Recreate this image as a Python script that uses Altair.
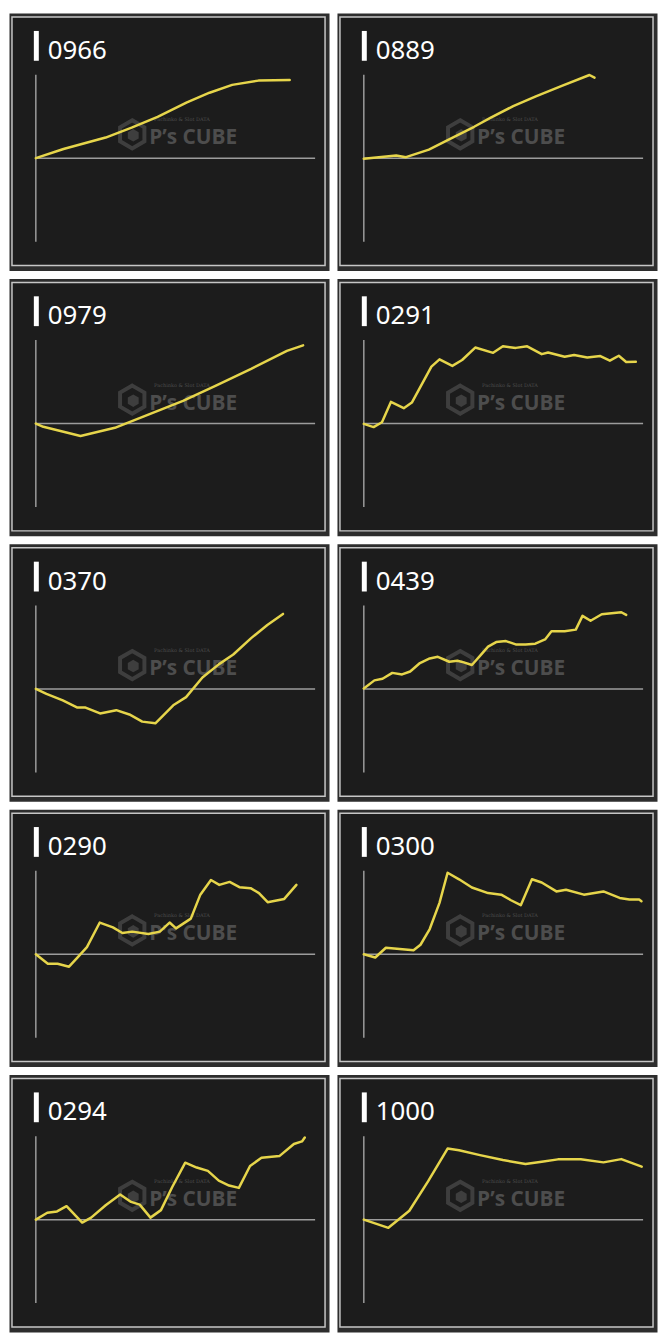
import altair as alt
import pandas as pd

# ---- data (x: relative play position 0-100, v: relative difference, axis spans -100..100) ----
names = ["0966", "0889", "0979", "0291", "0370", "0439", "0290", "0300", "0294", "1000"]

x_0966 = [0, 9.9, 25.0, 34.3, 43.6, 54.1, 62.2, 70.3, 79.7, 90.9]
v_0966 = [0, 11, 24.7, 36.5, 49.4, 66.7, 78.4, 87.8, 92.9, 93.7]

x_0889 = [0, 11.6, 15.1, 23.3, 30.2, 39.5, 45.3, 53.5, 61.6, 70.9, 80.8, 82.6]
v_0889 = [-0.8, 3.1, 1.2, 10.2, 22, 37.6, 48.2, 62.4, 74.1, 86.7, 99.6, 96.5]

x_0979 = [0, 2.7, 16.0, 28.3, 38.7, 52.7, 64.3, 77.1, 89.9, 95.7]
v_0979 = [0, -3.9, -14.9, -5.1, 8.6, 27.1, 45.1, 65.5, 87.1, 93.7]

x_0291 = [0, 3.5, 6.5, 9.7, 14.3, 17.2, 24.2, 27.1, 31.7, 35.2, 39.9, 46.3, 49.8,
          54.4, 58.5, 63.7, 66.0, 71.9, 75.3, 80.0, 84.7, 88.1, 91.3, 93.95, 97.4]
v_0291 = [-0.4, -4.3, 1.6, 25.9, 18.4, 25.1, 68.2, 76.9, 69.0, 76.1, 91.0, 84.7, 92.5,
          90.6, 92.5, 83.1, 85.1, 80.0, 82.0, 79.2, 80.8, 75.3, 81.2, 73.7, 74.1]

x_0370 = [0, 3.8, 9.65, 14.9, 17.8, 23.0, 28.8, 33.5, 38.1, 42.8, 49.2, 53.8,
          59.65, 65.5, 70.7, 77.1, 82.9, 88.5]
v_0370 = [0, -5.9, -13.7, -22.4, -22.4, -29.4, -25.5, -30.6, -39.2, -41.2, -19.6,
          -9.8, 13.7, 29.4, 41.2, 60.8, 76.5, 89.8]

x_0439 = [0, 3.8, 6.7, 10.2, 13.7, 16.6, 20.1, 23.6, 26.5, 30.6, 33.5, 35.8, 38.7,
          41.6, 44.5, 47.4, 50.9, 54.4, 57.9, 61.4, 64.9, 67.2, 71.9, 75.9, 78.3,
          81.2, 85.2, 88.7, 92.2, 93.95]
v_0439 = [0.4, 10.2, 12.2, 19.2, 17.3, 20.8, 31.0, 36.5, 38.4, 32.5, 33.7, 31.8,
          28.6, 39.6, 50.6, 56.1, 57.3, 53.3, 53.3, 54.1, 59.2, 69.0, 69.0, 71.0,
          87.5, 81.6, 89.4, 90.6, 91.8, 88.6]

x_0290 = [0, 4.3, 7.8, 11.9, 14.8, 18.3, 22.9, 27.6, 31.0, 34.5, 40.3, 44.4, 47.9,
          50.2, 55.5, 58.9, 62.7, 65.7, 69.4, 72.9, 76.9, 79.9, 83.0, 88.95, 93.3]
v_0290 = [0, -11.4, -11.4, -14.9, -4.3, 8.6, 38.0, 32.2, 25.5, 27.1, 24.3, 27.1,
          38.0, 31.0, 42.7, 71.4, 89.0, 83.1, 86.7, 80.4, 79.2, 73.3, 62.4, 66.3, 83.1]

x_0300 = [0, 4.1, 7.9, 17.8, 20.3, 23.6, 27.1, 30.0, 34.1, 38.7, 44.5, 49.2, 52.7,
          56.2, 60.2, 63.7, 68.95, 72.4, 78.8, 85.8, 91.6, 95.1, 98.6, 99.4]
v_0300 = [0, -3.9, 7.8, 4.7, 11.4, 30.2, 61.6, 97.6, 89.8, 80.0, 73.3, 71.4, 64.7,
          58.8, 89.8, 85.9, 75.3, 77.3, 71.4, 75.3, 67.5, 65.5, 65.5, 63.5]

x_0294 = [0, 4.1, 7.6, 11.0, 16.6, 19.8, 25.0, 30.2, 34.1, 37.2, 41.05, 44.8, 48.8,
          53.5, 57.6, 61.6, 65.5, 69.2, 72.7, 76.7, 80.8, 87.2, 92.4, 95.3, 96.3]
v_0294 = [0, 8.2, 9.8, 16.1, -3.5, 2.4, 17.3, 30.2, 21.2, 18.0, 2.4, 11.4, 38.8,
          68.2, 62.4, 58.4, 46.7, 40.8, 38.0, 64.3, 74.1, 76.1, 90.6, 93.7, 98.4]

x_1000 = [0, 8.8, 16.3, 23.0, 30.0, 34.1, 41.6, 49.8, 57.9, 63.7, 69.5, 77.7, 85.8, 92.2, 99.5]
v_1000 = [0, -9.8, 10.6, 45.9, 85.1, 83.1, 77.3, 71.4, 66.7, 69.4, 72.2, 72.2, 68.6, 72.5, 63.5]

series = {
    "0966": (x_0966, v_0966), "0889": (x_0889, v_0889),
    "0979": (x_0979, v_0979), "0291": (x_0291, v_0291),
    "0370": (x_0370, v_0370), "0439": (x_0439, v_0439),
    "0290": (x_0290, v_0290), "0300": (x_0300, v_0300),
    "0294": (x_0294, v_0294), "1000": (x_1000, v_1000),
}

# ---- style ----
W, H = 322, 259
YELLOW = "#e6d54b"
PANEL = "#1c1c1c"
TILE = "#2d2d2d"
AXIS = "#9c9c9c"
WM = "#4d4d4d"

xscale = alt.Scale(domain=[0, 100], range=[27, 308])
yscale = alt.Scale(domain=[-100, 100], range=[230, 62])

HEX = "M0,-1L0.866,-0.5L0.866,0.5L0,1L-0.866,0.5L-0.866,-0.5Z"


def panel(name):
    xs, vs = series[name]
    df = pd.DataFrame({"x": xs, "v": vs})
    one = pd.DataFrame({"name": [name], "zero": [0]})
    base1 = alt.Chart(one)

    frame = base1.mark_rect(fill=PANEL, stroke="#c6c6c6", strokeWidth=1.5).encode(
        x=alt.value(3), x2=alt.value(318), y=alt.value(4), y2=alt.value(254))
    vaxis = base1.mark_rule(color=AXIS, strokeWidth=1.5).encode(
        x=alt.value(27), y=alt.value(62), y2=alt.value(230))
    zero = base1.mark_rule(color=AXIS, strokeWidth=1.5).encode(
        x=alt.value(27), x2=alt.value(308),
        y=alt.Y("zero:Q", scale=yscale, axis=None))
    bar = base1.mark_rect(fill="#ffffff").encode(
        x=alt.value(25), x2=alt.value(30), y=alt.value(18), y2=alt.value(48))
    title = base1.mark_text(align="left", baseline="alphabetic", fontSize=26,
                            font="Noto Sans", color="#ffffff").encode(
        x=alt.value(39), y=alt.value(46), text="name:N")
    wm_hex = base1.mark_point(shape=HEX, size=800, filled=False, stroke=WM,
                              strokeWidth=4).encode(x=alt.value(124), y=alt.value(122))
    wm_cube = base1.mark_point(shape=HEX, size=160, filled=True, fill=WM,
                               strokeWidth=0).encode(x=alt.value(125), y=alt.value(123))
    wm_text = base1.mark_text(text="P\u2019s CUBE", align="left", baseline="alphabetic",
                              fontSize=21, fontWeight="bold", font="Open Sans",
                              color=WM).encode(x=alt.value(141), y=alt.value(132))
    wm_small = base1.mark_text(text="Pachinko & Slot DATA", align="left",
                               baseline="alphabetic", fontSize=5, font="DejaVu Serif",
                               color=WM).encode(x=alt.value(146), y=alt.value(109))
    line = alt.Chart(df).mark_line(color=YELLOW, strokeWidth=2.5, strokeCap="round",
                                   strokeJoin="round").encode(
        x=alt.X("x:Q", scale=xscale, axis=None),
        y=alt.Y("v:Q", scale=yscale, axis=None),
        order="x:Q")
    return alt.layer(frame, wm_hex, wm_cube, wm_text, wm_small, vaxis, zero, line,
                     bar, title).properties(width=W, height=H)


rows = []
for i in range(0, len(names), 2):
    rows.append(alt.hconcat(panel(names[i]), panel(names[i + 1]), spacing=6))

chart = alt.vconcat(*rows, spacing=6).properties(padding=0, background="#ffffff")
chart = chart.configure_view(fill=TILE, stroke="transparent")

chart.save("out.html", embed_options={"renderer": "svg", "actions": False})
